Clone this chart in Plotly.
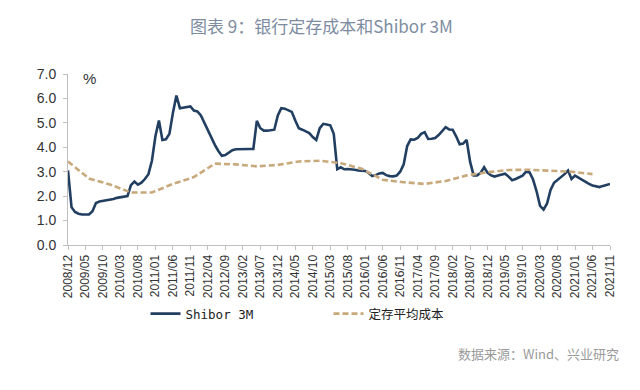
import plotly.graph_objects as go

# Month categories 2008/12 .. 2021/11
months = ["2008/12"] + [f"{y}/{m:02d}" for y in range(2009, 2022) for m in range(1, 13)]
months = months[:months.index("2021/11") + 1]

shibor_3m = [
    3.05, 1.55, 1.35, 1.28, 1.25, 1.24, 1.25, 1.38, 1.72, 1.78, 1.80, 1.81,   # 2008/12-2009/11
    1.83, 1.88, 1.93, 1.96, 1.97, 2.00, 2.45, 2.60, 2.47, 2.55, 2.70, 2.90,   # 2009/12-2010/11
    3.45, 4.45, 5.10, 4.30, 4.33, 4.55, 5.40, 6.12, 5.60, 5.62, 5.64, 5.67,   # 2010/12-2011/11
    5.50, 5.47, 5.30, 5.00, 4.70, 4.37, 4.10, 3.85, 3.65, 3.68, 3.78, 3.88,   # 2011/12-2012/11
    3.92, 3.93, 3.93, 3.92, 3.93, 3.93, 5.08, 4.78, 4.68, 4.68, 4.70, 4.72,   # 2012/12-2013/11
    5.30, 5.60, 5.58, 5.52, 5.45, 5.10, 4.78, 4.72, 4.66, 4.58, 4.42, 4.30,   # 2013/12-2014/11
    4.78, 4.96, 4.93, 4.90, 4.55, 3.10, 3.18, 3.10, 3.11, 3.11, 3.08, 3.05,   # 2014/12-2015/11
    3.05, 3.03, 2.95, 2.82, 2.86, 2.93, 2.95, 2.86, 2.82, 2.81, 2.84, 3.00,   # 2015/12-2016/11
    3.30, 4.05, 4.32, 4.31, 4.38, 4.55, 4.62, 4.34, 4.35, 4.38, 4.50, 4.65,   # 2016/12-2017/11
    4.82, 4.73, 4.72, 4.45, 4.12, 4.15, 4.30, 3.40, 2.85, 2.85, 2.95, 3.18,   # 2017/12-2018/11
    2.95, 2.85, 2.80, 2.84, 2.88, 2.92, 2.80, 2.65, 2.70, 2.76, 2.84, 3.00,   # 2018/12-2019/11
    2.97, 2.68, 2.20, 1.60, 1.45, 1.70, 2.25, 2.55, 2.67, 2.75, 2.90, 3.05,   # 2019/12-2020/11
    2.70, 2.84, 2.75, 2.67, 2.56, 2.50, 2.44, 2.40, 2.37, 2.42, 2.46, 2.50,   # 2020/12-2021/11
]

deposit_months = [
    "2008/12", "2009/06", "2009/12", "2010/06", "2010/12", "2011/06", "2011/12",
    "2012/06", "2012/12", "2013/06", "2013/12", "2014/06", "2014/12", "2015/06",
    "2015/12", "2016/06", "2016/12", "2017/06", "2017/12", "2018/06", "2018/12",
    "2019/06", "2019/12", "2020/06", "2020/12", "2021/06",
]
deposit_cost = [
    3.42, 2.72, 2.48, 2.15, 2.15, 2.50, 2.78,
    3.33, 3.30, 3.22, 3.28, 3.42, 3.45, 3.35,
    3.12, 2.67, 2.57, 2.50, 2.62, 2.85, 2.98,
    3.07, 3.08, 3.05, 3.00, 2.90,
]

tick_labels = months[::5]
y_ticks = [0, 1, 2, 3, 4, 5, 6, 7]

x_shibor = list(range(len(months)))
x_deposit = [months.index(m) for m in deposit_months]

# page offset of the figure (default body margin) and plot-area geometry in page pixels
OFF = 8
PL, PR, PT, PB = 68, 610, 74, 245
PW, PH = PR - PL, PB - PT


def px_x(x):
    return (x - PL) / PW


def px_y(y):
    return (PB - y) / PH


fig = go.Figure()
fig.add_trace(go.Scatter(
    x=x_shibor, y=shibor_3m, mode="lines", name="Shibor 3M",
    line=dict(color="#223f62", width=2.6),
))
fig.add_trace(go.Scatter(
    x=x_deposit, y=deposit_cost, mode="lines", name="定存平均成本",
    line=dict(color="#c8a97c", width=2.6, dash="6px,3px"),
))

W, H = 624, 374
axis_color = "#bfbfbf"
fig.update_layout(
    width=W, height=H,
    margin=dict(l=PL - OFF, r=W + OFF - PR, t=PT - OFF, b=H + OFF - PB),
    paper_bgcolor="white", plot_bgcolor="white",
    showlegend=True,
    legend=dict(
        orientation="h", x=0.143, xanchor="left", y=px_y(314), yanchor="middle",
        font=dict(family="DejaVu Sans Mono, Noto Sans CJK SC", size=12.5, color="#222"),
        entrywidth=138, entrywidthmode="pixels",
        bgcolor="rgba(0,0,0,0)",
    ),
    xaxis=dict(
        range=[0, len(months) - 1],
        tickmode="array",
        tickvals=list(range(0, len(months), 5)),
        ticktext=tick_labels,
        tickangle=-90,
        tickfont=dict(family="Liberation Sans, Arial", size=12, color="#333"),
        showgrid=False, zeroline=False,
        showline=True, linecolor=axis_color, linewidth=1,
        ticks="outside", ticklen=4, tickcolor=axis_color,
    ),
    yaxis=dict(
        range=[0, 7],
        tickmode="array",
        tickvals=y_ticks,
        ticktext=[f"{v:.1f}" for v in y_ticks],
        tickfont=dict(family="Liberation Sans, Arial", size=14, color="#333"),
        showgrid=False, zeroline=False,
        showline=True, linecolor=axis_color, linewidth=1,
        ticks="outside", ticklen=4, tickcolor=axis_color,
        ticklabelstandoff=4,
    ),
    annotations=[
        dict(text="图表 9：银行定存成本和Shibor 3M", xref="paper", yref="paper",
             x=px_x(321), xanchor="center", y=px_y(25), yanchor="middle",
             showarrow=False,
             font=dict(family="Noto Sans CJK SC", size=17, color="#7d8ca1")),
        dict(text="%", xref="paper", yref="paper",
             x=px_x(89), xanchor="center", y=px_y(78), yanchor="middle",
             showarrow=False,
             font=dict(family="Liberation Sans, Arial", size=15, color="#333")),
        dict(text="数据来源：Wind、兴业研究", xref="paper", yref="paper",
             x=px_x(621), xanchor="right", y=px_y(353), yanchor="middle",
             showarrow=False,
             font=dict(family="Noto Sans CJK SC", size=13, color="#9a9a9a")),
    ],
)

fig.write_html("out.html")
